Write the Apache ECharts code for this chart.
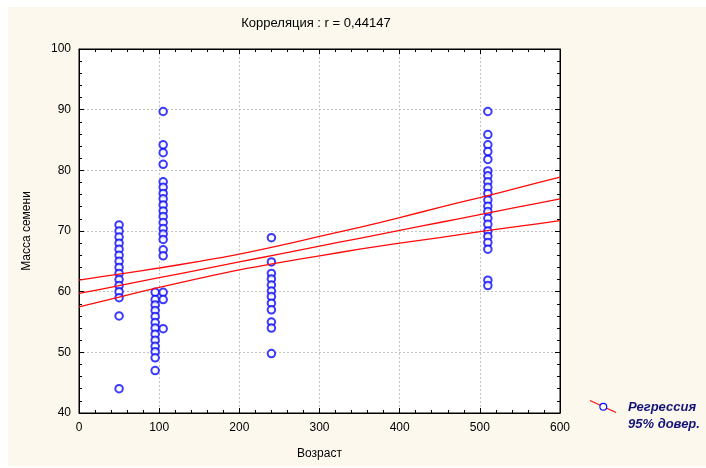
<!DOCTYPE html>
<html>
<head>
<meta charset="utf-8">
<script src="https://cdn.jsdelivr.net/npm/echarts@6/dist/echarts.min.js"></script>
<style>
  html, body { margin: 0; padding: 0; background: #ffffff; }
  #wrap { position: relative; width: 706px; height: 468px; }
  #bg { position: absolute; left: 8px; top: 7px; width: 698px; height: 459px; background: #fcf8ee; }
  #chart { position: absolute; left: 0; top: 0; width: 706px; height: 468px; }
</style>
</head>
<body>
<div id="wrap"><div id="bg"></div><div id="chart"></div></div>
<script>
// ---- data ----
const titleText = 'Корреляция : r = 0,44147';
const xName = 'Возраст';
const yName = 'Масса семени';
const legendLines = ['Регрессия', '95% довер.'];
const xTicks = [0, 100, 200, 300, 400, 500, 600];
const yTicks = [40, 50, 60, 70, 80, 90, 100];

const massAt50  = [71, 70, 69, 68, 67, 66, 65, 64, 63, 62, 61, 60, 59, 56, 44];
const massAt95  = [59.9, 58.7, 57.8, 56.9, 55.9, 54.9, 54, 53, 52, 51, 50.1, 49.1, 47];
const massAt105 = [89.7, 84.2, 82.9, 81, 78.1, 77.2, 76.2, 75.3, 74.3, 73.3, 72.4, 71.4, 70.4, 69.5, 68.6, 66.9, 65.9, 59.9, 58.7, 53.9];
const massAt240 = [68.9, 64.9, 63, 62.1, 61.1, 60.1, 59.2, 58.1, 57, 55, 54, 49.8];
const massAt510 = [89.7, 85.9, 84.2, 83.1, 81.8, 79.9, 79.1, 78.1, 77.2, 76.2, 75.1, 74.1, 73.2, 72.1, 71.1, 70, 69.1, 68.1, 67, 61.9, 61];

const fitX     = [0, 50, 100, 150, 200, 250, 300, 350, 400, 450, 500, 550, 600];
const fitMid   = [59.7, 61.0, 62.3, 63.6, 64.9, 66.2, 67.5, 68.8, 70.1, 71.4, 72.7, 74.0, 75.3];
const fitUpper = [61.9, 62.9, 63.9, 65.0, 66.2, 67.6, 69.1, 70.6, 72.2, 73.9, 75.5, 77.2, 78.9];
const fitLower = [57.5, 59.1, 60.7, 62.2, 63.6, 64.8, 65.9, 67.0, 68.0, 68.9, 69.9, 70.8, 71.7];

// ---- build ----
const groups = [[50, massAt50], [95, massAt95], [105, massAt105], [240, massAt240], [510, massAt510]];
const points = [];
groups.forEach(([x, arr]) => arr.forEach(v => points.push([x, v])));
const pair = (ys) => fitX.map((x, i) => [x, ys[i]]);

const FONT = '"Liberation Sans", Arial, sans-serif';
const chart = echarts.init(document.getElementById('chart'), null, { renderer: 'canvas' });

const gridLine = { show: true, lineStyle: { color: '#c4c4c4', type: [2, 2], width: 1 } };
const baseX = {
  type: 'value', min: 0, max: 600, interval: 100,
  axisLine: { show: true, onZero: false, lineStyle: { color: '#000', width: 1 } },
  axisTick: { show: true, inside: true, length: 5, lineStyle: { color: '#000' } },
  minorTick: { show: true, splitNumber: 5, length: 3, lineStyle: { color: '#000' } },
};
const baseY = {
  type: 'value', min: 40, max: 100, interval: 10,
  axisLine: { show: true, onZero: false, lineStyle: { color: '#000', width: 1 } },
  axisTick: { show: true, inside: true, length: 5, lineStyle: { color: '#000' } },
  minorTick: { show: true, splitNumber: 5, length: 3, lineStyle: { color: '#000' } },
};

const lineSeries = (ys) => ({
  type: 'line', data: pair(ys), smooth: 0.3, showSymbol: false, symbol: 'none',
  lineStyle: { color: '#ff0a0a', width: 1.3 }, z: 5, silent: true, animation: false
});

chart.setOption({
  animation: false,
  textStyle: { fontFamily: FONT },
  title: {
    text: titleText, left: 311, top: 12, textAlign: 'center',
    textStyle: { fontFamily: FONT, fontSize: 13, fontWeight: 'normal', color: '#000' }
  },
  grid: {
    left: 79, top: 49, width: 481, height: 364,
    show: true, backgroundColor: '#ffffff', borderColor: '#000', borderWidth: 1
  },
  xAxis: [
    Object.assign({}, baseX, {
      position: 'bottom', name: xName, nameLocation: 'middle', nameGap: 35,
      nameTextStyle: { fontFamily: FONT, fontSize: 12, color: '#000' },
      axisLabel: { show: true, margin: 9, fontFamily: FONT, fontSize: 12, color: '#000',
                   formatter: v => xTicks.includes(v) ? String(v) : '' },
      splitLine: gridLine
    }),
    Object.assign({}, baseX, { position: 'top', axisLabel: { show: false }, splitLine: { show: false } })
  ],
  yAxis: [
    Object.assign({}, baseY, {
      position: 'left', name: yName, nameLocation: 'middle', nameGap: 46,
      nameTextStyle: { fontFamily: FONT, fontSize: 12, color: '#000' },
      axisLabel: { show: true, margin: 8, fontFamily: FONT, fontSize: 12, color: '#000',
                   formatter: v => yTicks.includes(v) ? String(v) : '' },
      splitLine: gridLine
    }),
    Object.assign({}, baseY, { position: 'right', axisLabel: { show: false }, splitLine: { show: false } })
  ],
  series: [
    {
      type: 'scatter', data: points, symbol: 'emptyCircle', symbolSize: 7.5,
      itemStyle: { color: '#0a0aff', borderColor: '#0a0aff', borderWidth: 1.1 }, z: 3
    },
    lineSeries(fitUpper),
    lineSeries(fitMid),
    lineSeries(fitLower)
  ],
  graphic: [
    { type: 'line', shape: { x1: 590, y1: 400.5, x2: 616, y2: 412.5 }, style: { stroke: '#ff0a0a', lineWidth: 1.2 }, z: 10 },
    { type: 'circle', shape: { cx: 603.3, cy: 406.8, r: 3.4 }, style: { fill: '#ffffff', stroke: '#0a0aff', lineWidth: 1.2 }, z: 11 },
    { type: 'text', left: 628, top: 401, style: { text: legendLines[0], font: 'italic bold 13px ' + FONT, fill: '#141478' }, z: 10 },
    { type: 'text', left: 628, top: 418, style: { text: legendLines[1], font: 'italic bold 13px ' + FONT, fill: '#141478' }, z: 10 }
  ]
});
</script>
</body>
</html>
